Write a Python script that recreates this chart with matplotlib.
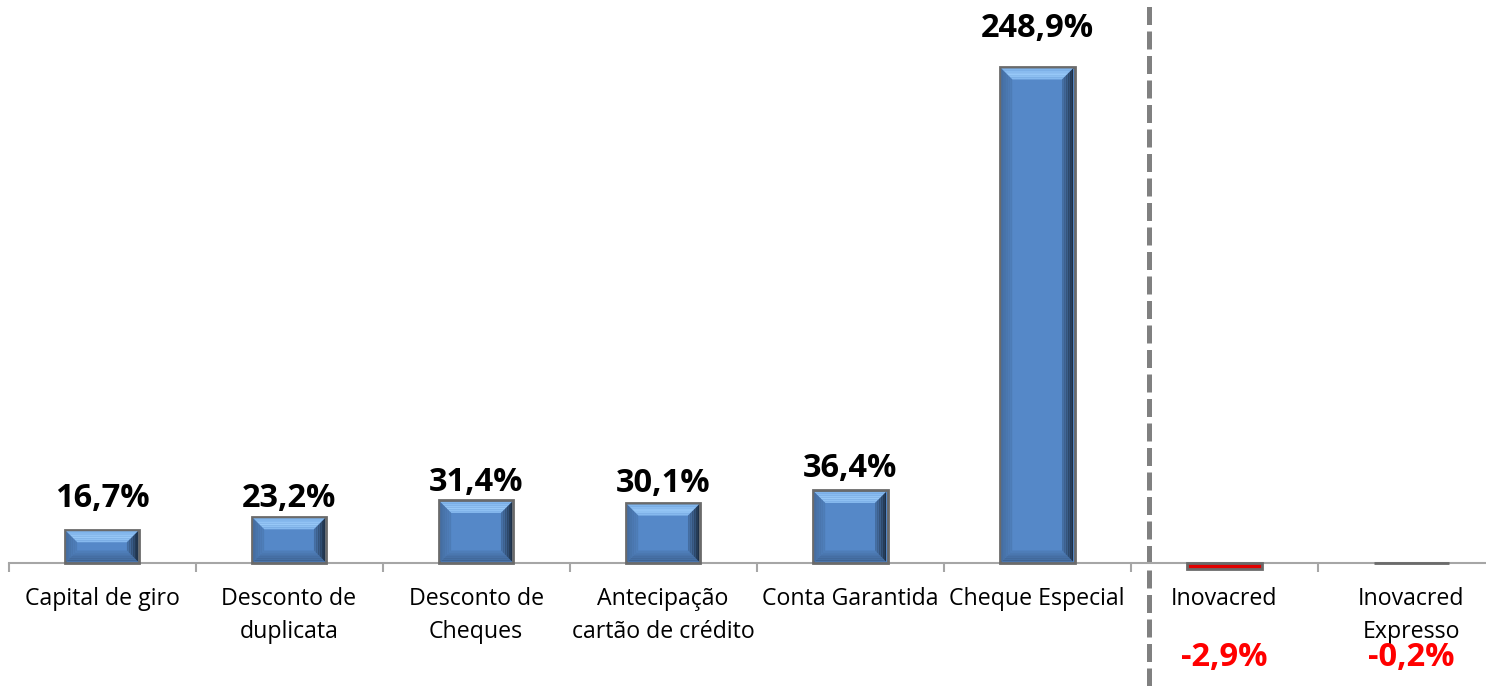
import matplotlib.pyplot as plt
from matplotlib.patches import Polygon
import numpy as np

categories = ["Capital de giro", "Desconto de\nduplicata", "Desconto de\nCheques",
              "Antecipação\ncartão de crédito", "Conta Garantida", "Cheque Especial",
              "Inovacred", "Inovacred\nExpresso"]
values = [16.7, 23.2, 31.4, 30.1, 36.4, 248.9, -2.9, -0.2]

# baseline of each positive label above its bar (points), as in the original
label_lift = [16.5, 7, 6.5, 8, 10, 21.5, 0, 0]

W, H = 1486, 686
DPI = 100
fig = plt.figure(figsize=(W / DPI, H / DPI), dpi=DPI)
left = 8.5 / W
ax = fig.add_axes([left, 0, 1 - left, 1])

xlim = (-0.5, 7.40)
ylim = (-61.7, 282.5)
ax.set_xlim(*xlim)
ax.set_ylim(*ylim)

x = np.arange(len(categories))
face = "#5588c8"
colors = [face if v >= 0 else "#e00000" for v in values]
bars = ax.bar(x, values, width=0.40, color=colors, edgecolor="#6a6a6a",
              linewidth=2.0, zorder=3)

# bevel, sized in pixels
ppx = W * (1 - left) / (xlim[1] - xlim[0])
ppy = H / (ylim[1] - ylim[0])
bx, by = 11 / ppx, 11 / ppy


def shade(c, f):
    c = np.array(plt.matplotlib.colors.to_rgb(c))
    return tuple(np.clip(c * f, 0, 1))


def band(pts, c):
    ax.add_patch(Polygon(pts, closed=True, color=c, lw=0, zorder=4))


for b, v in zip(bars, values):
    if v <= 0:
        continue
    x0, y0 = b.get_x(), b.get_y()
    x1, y1 = x0 + b.get_width(), y0 + b.get_height()
    x0 += 1.5 / ppx
    x1 -= 1.5 / ppx
    y1 -= 1.5 / ppy
    y0 += 1.5 / ppy
    n = 6
    for i in range(n):
        fa, fb = i / n, (i + 1) / n
        # top: light, brightest in the middle
        t = 1 - abs((i + 0.5) / n - 0.55) * 1.6
        ctop = np.array([0.47, 0.68, 0.91]) * (1 - t) + np.array([0.60, 0.79, 0.97]) * t
        band([(x0 + bx * fa, y1 - by * fa), (x1 - bx * fa, y1 - by * fa),
              (x1 - bx * fb, y1 - by * fb), (x0 + bx * fb, y1 - by * fb)], tuple(ctop))
        # bottom: darker towards the edge
        band([(x0 + bx * fa, y0 + by * fa), (x1 - bx * fa, y0 + by * fa),
              (x1 - bx * fb, y0 + by * fb), (x0 + bx * fb, y0 + by * fb)],
             shade(face, 0.72 + 0.22 * (i + 0.5) / n))
        # left: slightly darker
        band([(x0 + bx * fa, y0 + by * fa), (x0 + bx * fa, y1 - by * fa),
              (x0 + bx * fb, y1 - by * fb), (x0 + bx * fb, y0 + by * fb)],
             shade(face, 0.80 + 0.12 * (i + 0.5) / n))
        # right: gradient towards dark
        band([(x1 - bx * fa, y0 + by * fa), (x1 - bx * fa, y1 - by * fa),
              (x1 - bx * fb, y1 - by * fb), (x1 - bx * fb, y0 + by * fb)],
             shade(face, 0.30 + 0.55 * (i + 0.5) / n))

# value labels
for xi, v, lift in zip(x, values, label_lift):
    txt = f"{v:.1f}%".replace(".", ",")
    if v >= 0:
        ax.annotate(txt, (xi, v), xytext=(0, lift), textcoords="offset points",
                    ha="center", va="baseline", fontsize=23.5, fontweight="bold",
                    family="Open Sans", color="black", zorder=5)
    else:
        ax.annotate(txt, (xi, 0), xytext=(0, -68), textcoords="offset points",
                    ha="center", va="center", fontsize=23.5, fontweight="bold",
                    family="Open Sans", color="#ff0000", zorder=5)

# separator between product groups
ax.axvline(5.6, color="#808080", lw=3.6, linestyle=(0, (3.6, 1.3)), zorder=2)

for s in ["top", "right", "left"]:
    ax.spines[s].set_visible(False)
ax.spines["bottom"].set_position(("data", 0))
ax.spines["bottom"].set_color("#a6a6a6")
ax.spines["bottom"].set_linewidth(1.5)
ax.set_yticks([])
ax.set_xticks(x)
ax.set_xticklabels(categories, family="Open Sans", fontsize=16.7, linespacing=1.52)
ax.set_xticks(np.arange(-0.5, 7.5, 1.0), minor=True)
ax.tick_params(axis="x", which="major", length=0, pad=17)
ax.tick_params(axis="x", which="minor", length=6.5, width=1.5, color="#a6a6a6")

fig.savefig("out.png", dpi=DPI)
